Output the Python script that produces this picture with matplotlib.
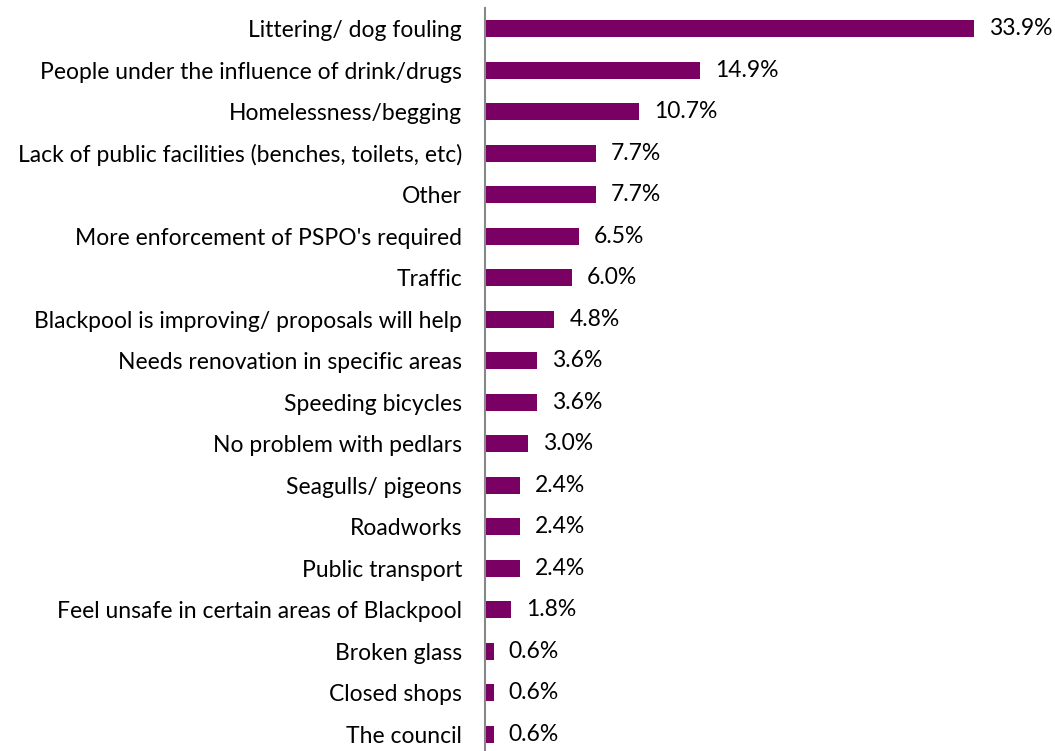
import matplotlib
matplotlib.use('Agg')
import matplotlib.pyplot as plt

# Категории и значения (%)
categories = [
    'Littering/ dog fouling',
    'People under the influence of drink/drugs',
    'Homelessness/begging',
    'Lack of public facilities (benches, toilets, etc)',
    'Other',
    "More enforcement of PSPO's required",
    'Traffic',
    'Blackpool is improving/ proposals will help',
    'Needs renovation in specific areas',
    'Speeding bicycles',
    'No problem with pedlars',
    'Seagulls/ pigeons',
    'Roadworks',
    'Public transport',
    'Feel unsafe in certain areas of Blackpool',
    'Broken glass',
    'Closed shops',
    'The council',
]
values = [33.9, 14.9, 10.7, 7.7, 7.7, 6.5, 6.0, 4.8, 3.6, 3.6, 3.0, 2.4, 2.4, 2.4, 1.8, 0.6, 0.6, 0.6]

plt.rcParams['font.family'] = ['Lato', 'DejaVu Sans']

fig = plt.figure(figsize=(10.55, 7.51), dpi=100)
ax = fig.add_axes([485 / 1055, 0, 548 / 1055, 743 / 751])

y = list(range(len(categories)))
ax.barh(y, values, height=0.41, color='#7B0063')

for yi, v in zip(y, values):
    ax.text(v + 1.05, yi, f'{v:.1f}%', va='center', ha='left', fontsize=16.5, color='#000000')

ax.set_yticks(y)
ax.set_yticklabels(categories, fontsize=16.5)
ax.tick_params(axis='y', length=0, pad=16.5)
ax.set_xticks([])
ax.set_xlim(0, 38)
ax.set_ylim(17.4, -0.5)

for s in ['top', 'right', 'bottom']:
    ax.spines[s].set_visible(False)
ax.spines['left'].set_color('#888888')
ax.spines['left'].set_linewidth(1.5)

plt.savefig('out.png', dpi=100)
